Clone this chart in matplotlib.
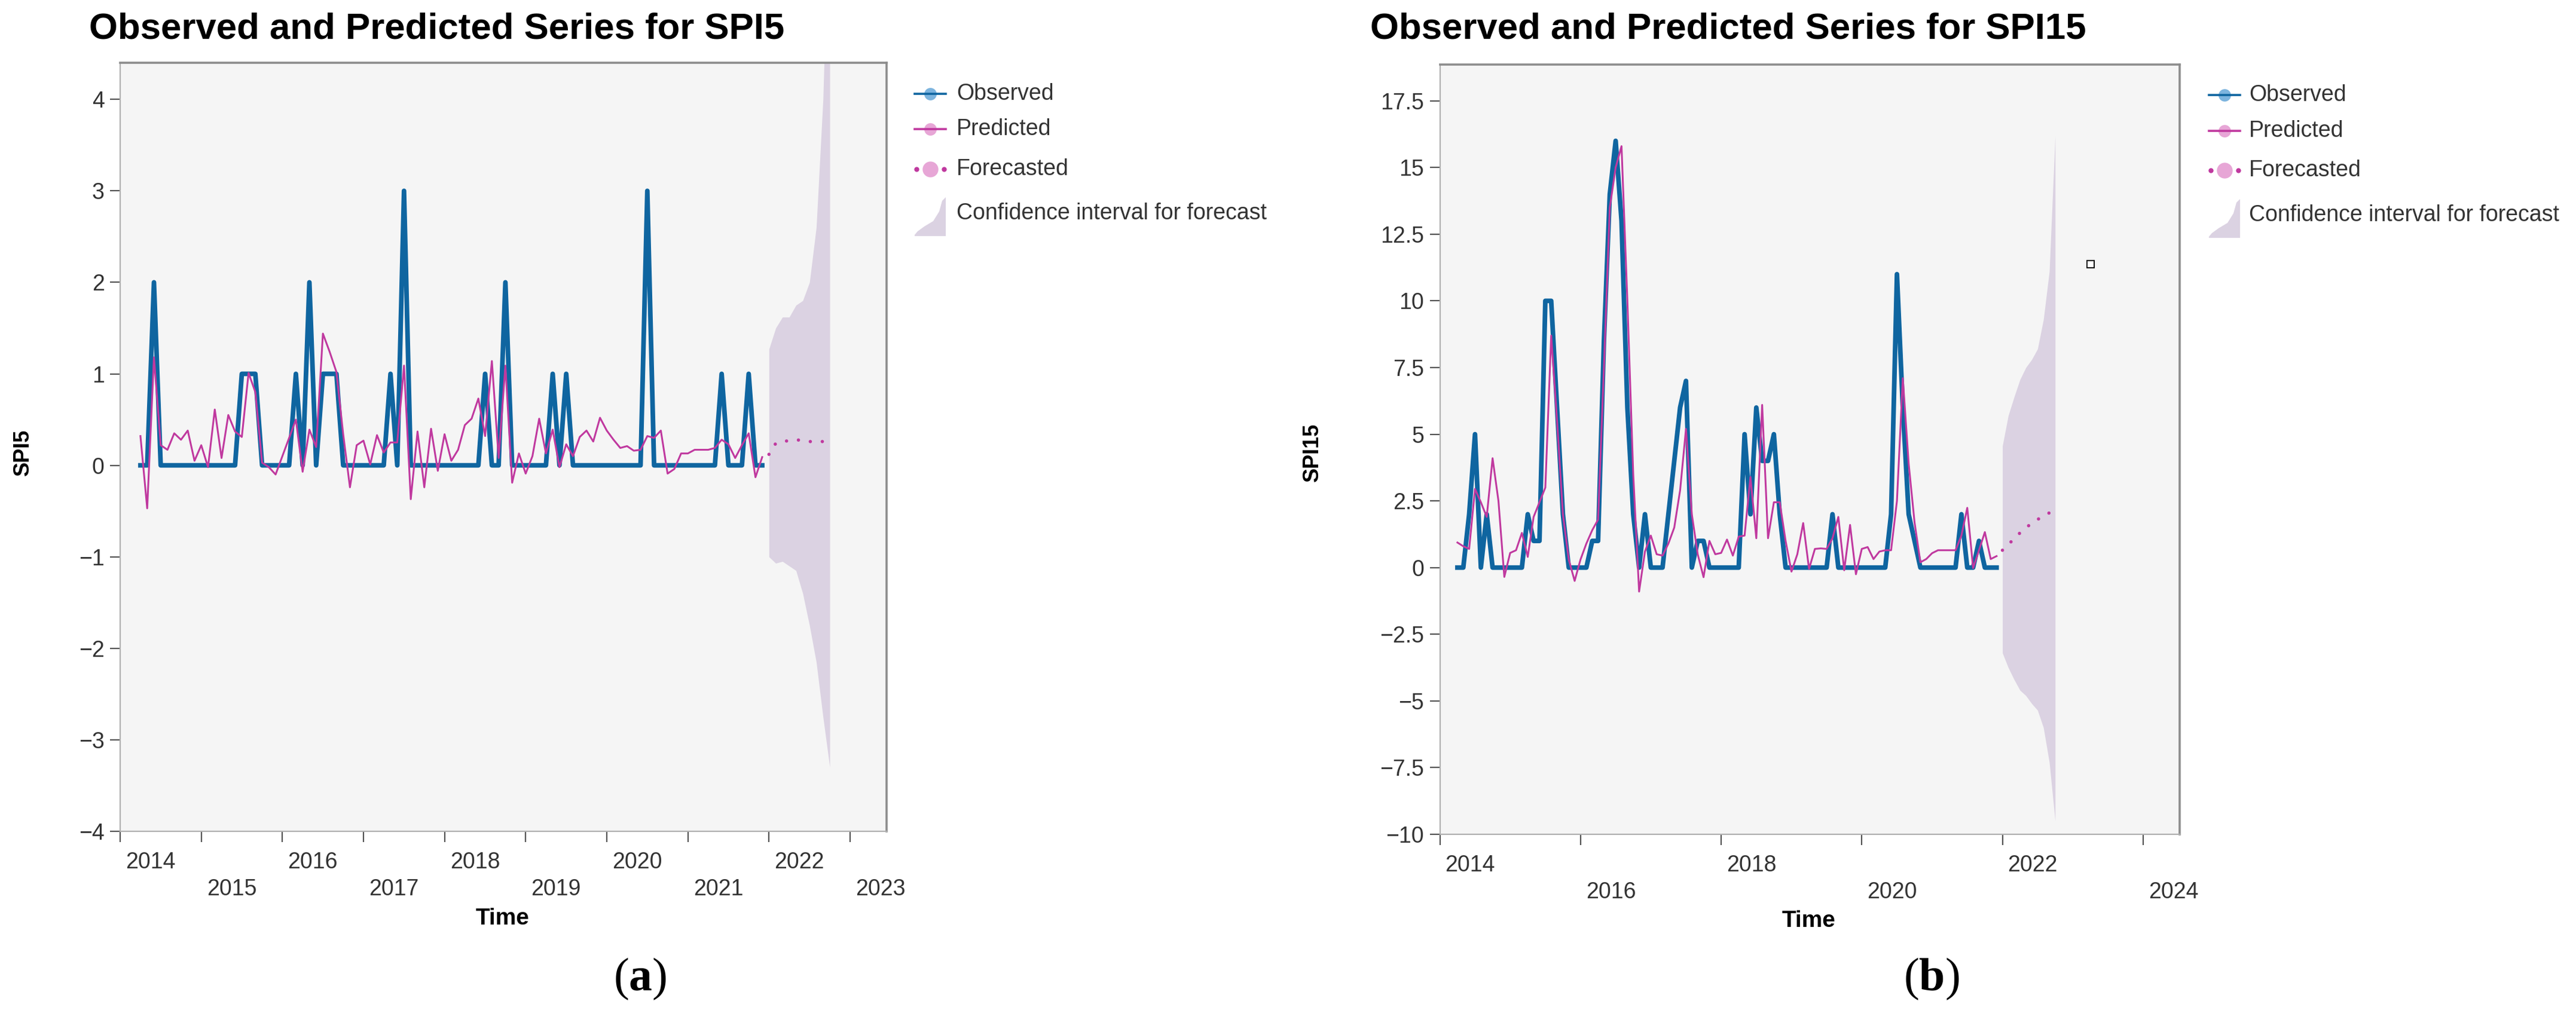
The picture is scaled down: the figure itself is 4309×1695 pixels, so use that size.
import numpy as np
import matplotlib
matplotlib.use("Agg")
import matplotlib.pyplot as plt
from matplotlib.lines import Line2D
from matplotlib.patches import Polygon
from matplotlib.ticker import FuncFormatter

plt.rcParams['font.family'] = ['Liberation Sans', 'DejaVu Sans']
plt.rcParams['mathtext.fontset'] = 'custom'
plt.rcParams['mathtext.rm'] = 'Liberation Serif'
plt.rcParams['mathtext.bf'] = 'Liberation Serif:bold'

# ---- data (monthly, first value = April 2014, last = Dec 2021) ----
start_year = 2014
start_month = 4
fc_start_month = 1   # forecasts start Jan 2022
fc_year = 2022

spi5_observed = [0, 0, 2, 0, 0, 0, 0, 0, 0, 0, 0, 0, 0, 0, 0, 1, 1, 1, 0, 0,
                 0, 0, 0, 1, 0, 2, 0, 1, 1, 1, 0, 0, 0, 0, 0, 0, 0, 1, 0, 3,
                 0, 0, 0, 0, 0, 0, 0, 0, 0, 0, 0, 1, 0, 0, 2, 0, 0, 0, 0, 0,
                 0, 1, 0, 1, 0, 0, 0, 0, 0, 0, 0, 0, 0, 0, 0, 3, 0, 0, 0, 0,
                 0, 0, 0, 0, 0, 0, 1, 0, 0, 0, 1, 0, 0]
spi5_predicted = [0.32, -0.47, 1.18, 0.22, 0.17, 0.35, 0.28, 0.38, 0.05, 0.22,
                  -0.02, 0.61, 0.08, 0.55, 0.37, 0.31, 1.01, 0.80, 0.03, -0.02,
                  -0.10, 0.10, 0.30, 0.50, -0.07, 0.39, 0.20, 1.44, 1.24, 1.02,
                  0.34, -0.24, 0.22, 0.27, 0.01, 0.33, 0.14, 0.25, 0.25, 1.09,
                  -0.37, 0.37, -0.24, 0.40, -0.06, 0.34, 0.05, 0.17, 0.44, 0.51,
                  0.73, 0.32, 1.14, 0.08, 1.09, -0.19, 0.13, -0.09, 0.10, 0.51,
                  0.13, 0.39, -0.02, 0.23, 0.10, 0.31, 0.38, 0.26, 0.52, 0.38,
                  0.28, 0.19, 0.21, 0.16, 0.17, 0.32, 0.30, 0.38, -0.09, -0.04,
                  0.13, 0.13, 0.17, 0.17, 0.17, 0.19, 0.28, 0.23, 0.08, 0.22,
                  0.35, -0.13, 0.09]
spi5_forecast = [0.12, 0.24, 0.26, 0.27, 0.28, 0.27, 0.26, 0.26, 0.26, 0.26]
spi5_ci_upper = [1.27, 1.50, 1.62, 1.62, 1.75, 1.80, 2.00, 2.60, 4.00, 6.50]
spi5_ci_lower = [-1.00, -1.07, -1.05, -1.10, -1.15, -1.40, -1.75, -2.15, -2.75, -3.30]

spi15_observed = [0, 0, 2, 5, 0, 2, 0, 0, 0, 0, 0, 0, 2, 1, 1, 10, 10, 6, 2, 0,
                  0, 0, 0, 1, 1, 8.5, 14, 16, 13, 6, 2, 0, 2, 0, 0, 0, 2, 4, 6, 7,
                  0, 1, 1, 0, 0, 0, 0, 0, 0, 5, 2, 6, 4, 4, 5, 2, 0, 0, 0, 0,
                  0, 0, 0, 0, 2, 0, 0, 0, 0, 0, 0, 0, 0, 0, 2, 11, 6, 2, 1, 0,
                  0, 0, 0, 0, 0, 0, 2, 0, 0, 1, 0, 0, 0]
spi15_predicted = [0.94, 0.80, 0.70, 2.95, 2.45, 1.90, 4.10, 2.50, -0.35, 0.55,
                   0.65, 1.30, 0.40, 1.90, 2.45, 3.00, 8.70, 5.50, 2.00, 0.30,
                   -0.50, 0.30, 0.90, 1.40, 1.80, 7.50, 13.5, 15.0, 15.8, 10.0,
                   3.50, -0.90, 0.60, 1.20, 0.50, 0.45, 0.90, 1.50, 2.90, 5.20,
                   2.00, 0.50, -0.36, 1.00, 0.50, 0.55, 1.05, 0.45, 1.16, 1.20,
                   3.40, 1.10, 6.10, 1.10, 2.45, 2.45, 1.00, -0.15, 0.50, 1.67,
                   -0.05, 0.70, 0.72, 0.70, 1.10, 1.90, -0.10, 1.60, -0.25, 0.70,
                   0.77, 0.32, 0.60, 0.65, 0.65, 2.50, 7.10, 3.90, 1.70, 0.20,
                   0.32, 0.54, 0.65, 0.65, 0.65, 0.65, 1.20, 2.24, -0.02, 0.65,
                   1.33, 0.32, 0.43]
spi15_forecast = [0.65, 0.85, 1.10, 1.30, 1.50, 1.65, 1.80, 1.95, 2.05, 2.15]
spi15_ci_upper = [4.56, 5.70, 6.40, 7.05, 7.50, 7.80, 8.20, 9.30, 11.1, 16.2]
spi15_ci_lower = [-3.20, -3.75, -4.20, -4.60, -4.80, -5.10, -5.35, -6.00, -7.30, -9.50]

# stray marker that appears in panel (b)
stray_point = (2023.25, 11.37)

# ---- styling ----
W, H = 4309, 1695
BLUE = '#0f65a0'
MAGENTA = '#c0399f'
BAND = '#dbd2e2'
BG = '#f5f5f5'
TXT = '#333333'


def fx(px):
    return px / W


def fy(py):
    return 1 - py / H


def months_to_years(first_year, first_month, n):
    return first_year + (first_month - 1 + np.arange(n)) / 12.0


def minus_fmt(v, pos):
    return ('%g' % v).replace('-', '\u2212')


def draw_panel(ax, obs, pred, fc, lo, hi, ylim, yticks, xlim, xticks):
    t = months_to_years(start_year, start_month, len(obs))
    tf = months_to_years(fc_year, fc_start_month, len(fc))
    ax.set_facecolor(BG)
    ax.fill_between(tf, lo, hi, color=BAND, lw=0, zorder=1)
    ax.plot(t, obs, color=BLUE, lw=5.6, zorder=2, solid_joinstyle='round')
    ax.plot(t, pred, color=MAGENTA, lw=2.2, zorder=3)
    ax.plot(tf, fc, color=MAGENTA, lw=4.0, linestyle=(0, (0.01, 3.6)),
            dash_capstyle='round', zorder=3)
    ax.set_xlim(*xlim)
    ax.set_ylim(*ylim)
    ax.set_yticks(yticks)
    ax.yaxis.set_major_formatter(FuncFormatter(minus_fmt))
    ax.set_xticks(xticks)
    ax.set_xticklabels([])
    ax.tick_params(axis='y', length=12, width=1.6, color='#555555', pad=7,
                   labelsize=27, labelcolor=TXT)
    ax.tick_params(axis='x', length=13, width=1.6, color='#555555')
    for s in ['top', 'right']:
        ax.spines[s].set_color('#8c8c8c')
        ax.spines[s].set_linewidth(2.6)
    for s in ['left', 'bottom']:
        ax.spines[s].set_color('#b0b0b0')
        ax.spines[s].set_linewidth(1.6)
    for i, yr in enumerate(xticks):
        off = -52 if i % 2 == 0 else -97
        ax.annotate(str(yr), xy=(yr, 0), xycoords=('data', 'axes fraction'),
                    xytext=(9, off), textcoords='offset pixels',
                    ha='left', va='center', fontsize=27, color=TXT,
                    annotation_clip=False)


def draw_legend(fig, xs, xt, rows):
    y1, y2, y3, y4 = rows
    L = 52
    # observed
    fig.add_artist(Line2D([fx(xs + L / 2)], [fy(y1)], marker='o', ms=15,
                          mfc='#7db4de', mec='none', transform=fig.transFigure))
    fig.add_artist(Line2D([fx(xs), fx(xs + L)], [fy(y1), fy(y1)], lw=2.6,
                          color=BLUE, transform=fig.transFigure))
    # predicted
    fig.add_artist(Line2D([fx(xs + L / 2)], [fy(y2)], marker='o', ms=15,
                          mfc='#e7a6d6', mec='none', transform=fig.transFigure))
    fig.add_artist(Line2D([fx(xs), fx(xs + L)], [fy(y2), fy(y2)], lw=2.6,
                          color=MAGENTA, transform=fig.transFigure))
    # forecasted
    fig.add_artist(Line2D([fx(xs + L / 2)], [fy(y3)], marker='o', ms=19,
                          mfc='#e7a6d6', mec='none', transform=fig.transFigure))
    fig.add_artist(Line2D([fx(xs + 3), fx(xs + L - 3)], [fy(y3), fy(y3)], lw=0,
                          marker='o', ms=5, color=MAGENTA,
                          transform=fig.transFigure))
    # confidence band glyph
    top = y4 - 27
    shape = [(0, 65), (52, 65), (52, 0), (46, 6), (41, 24), (31, 40),
             (16, 49), (5, 57), (0, 63)]
    pts = [(fx(xs + a), fy(top + b)) for a, b in shape]
    fig.add_artist(Polygon(pts, closed=True, facecolor=BAND, edgecolor='none',
                           transform=fig.transFigure))
    for y, lab in zip(rows, ['Observed', 'Predicted', 'Forecasted',
                             'Confidence interval for forecast']):
        fig.text(fx(xt), fy(y), lab, ha='left', va='center', fontsize=27,
                 color=TXT)


fig = plt.figure(figsize=(W / 100, H / 100), dpi=100)
fig.patch.set_facecolor('white')

ax1 = fig.add_axes([fx(201), fy(1391), fx(1483) - fx(201), fy(105) - fy(1391)])
draw_panel(ax1, spi5_observed, spi5_predicted, spi5_forecast,
           spi5_ci_lower, spi5_ci_upper, (-4, 4.4), np.arange(-4, 5, 1),
           (2014, 2023.45), list(range(2014, 2024)))

ax2 = fig.add_axes([fx(2408.5), fy(1396), fx(3646) - fx(2408.5), fy(108) - fy(1396)])
draw_panel(ax2, spi15_observed, spi15_predicted, spi15_forecast,
           spi15_ci_lower, spi15_ci_upper, (-10, 18.86), np.arange(-10, 18, 2.5),
           (2014, 2024.52), list(range(2014, 2025, 2)))
ax2.plot([stray_point[0]], [stray_point[1]], marker='s', ms=8, mfc='white',
         mec='black', mew=1.4, zorder=5)

# titles
fig.text(fx(149), fy(49), 'Observed and Predicted Series for SPI5', ha='left',
         va='center', fontsize=44.5, fontweight='bold')
fig.text(fx(2292), fy(49), 'Observed and Predicted Series for SPI15', ha='left',
         va='center', fontsize=44.5, fontweight='bold')

# axis labels
fig.text(fx(38), fy(757), 'SPI5', rotation=90, ha='center', va='center',
         fontsize=26, fontweight='bold')
fig.text(fx(2195), fy(757), 'SPI15', rotation=90, ha='center', va='center',
         fontsize=26, fontweight='bold')
fig.text(fx(841), fy(1537), 'Time', ha='center', va='center', fontsize=28,
         fontweight='bold')
fig.text(fx(3026), fy(1541), 'Time', ha='center', va='center', fontsize=28,
         fontweight='bold')

# legends
draw_legend(fig, 1530, 1600, (157, 216, 283, 357))
draw_legend(fig, 3695, 3762, (159, 219, 285, 360))

# sub-figure captions
fig.text(fx(1071), fy(1638), r'($\mathbf{a}$)', ha='center', va='center',
         fontsize=56, family='Liberation Serif')
fig.text(fx(3231), fy(1638), r'($\mathbf{b}$)', ha='center', va='center',
         fontsize=56, family='Liberation Serif')

fig.savefig('out.png', dpi=100, facecolor='white')
